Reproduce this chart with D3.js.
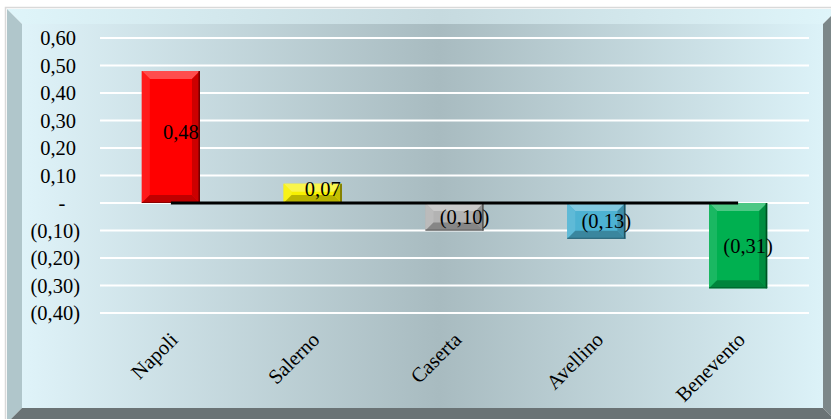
<!DOCTYPE html>
<html>
<head>
<meta charset="utf-8">
<script src="https://cdn.jsdelivr.net/npm/d3@7"></script>
<style>
  html, body { margin: 0; padding: 0; background: #ffffff; }
  svg { display: block; }
  text { font-family: "Liberation Serif", "Times New Roman", serif; fill: #000; }
</style>
</head>
<body>
<svg id="chart" width="831" height="419"></svg>
<script>
// Province values
const categories = ["Napoli", "Salerno", "Caserta", "Avellino", "Benevento"];
const values = [0.48, 0.07, -0.10, -0.13, -0.31];
const barColors = ["#ff0000", "#f7f000", "#b3b3b3", "#4db2d2", "#00b050"];
const yTicks = [0.6, 0.5, 0.4, 0.3, 0.2, 0.1, 0, -0.1, -0.2, -0.3, -0.4];

const W = 831, H = 419;
const svg = d3.select("#chart");
const defs = svg.append("defs");

// Panel background gradient: light at the edges, greyer in the middle
const bg = defs.append("linearGradient").attr("id", "panelGrad")
  .attr("x1", "0%").attr("x2", "100%").attr("y1", "0%").attr("y2", "0%");
bg.append("stop").attr("offset", "0%").attr("stop-color", "#dff3f9");
bg.append("stop").attr("offset", "52%").attr("stop-color", "#a8bbc0");
bg.append("stop").attr("offset", "100%").attr("stop-color", "#dcf2f8");

const topGrad = defs.append("linearGradient").attr("id", "topBevel")
  .attr("x1", "0%").attr("x2", "100%");
topGrad.append("stop").attr("offset", "0%").attr("stop-color", "#dff5fa");
topGrad.append("stop").attr("offset", "52%").attr("stop-color", "#c6dadf");
topGrad.append("stop").attr("offset", "100%").attr("stop-color", "#dff5fa");

// Outer border of the chart area
svg.append("rect").attr("x", 5.5).attr("y", 7.5).attr("width", W).attr("height", H)
  .attr("fill", "none").attr("stroke", "#d9d9d9").attr("stroke-width", 1.5);

// Bevelled frame
const ox0 = 7, oy0 = 9, ox1 = 838, oy1 = 423, bw = 15;
const ix0 = ox0 + bw, iy0 = oy0 + bw, ix1 = ox1 - bw, iy1 = oy1 - bw;
const frame = svg.append("g");
frame.append("polygon").attr("points", [[ox0, oy0], [ox1, oy0], [ix1, iy0], [ix0, iy0]].join(" "))
  .attr("fill", "url(#topBevel)");
frame.append("polygon").attr("points", [[ox0, oy0], [ix0, iy0], [ix0, iy1], [ox0, oy1]].join(" "))
  .attr("fill", "#b0c6cb");
frame.append("polygon").attr("points", [[ox1, oy0], [ox1, oy1], [ix1, iy1], [ix1, iy0]].join(" "))
  .attr("fill", "#7c8789");
frame.append("polygon").attr("points", [[ox0, oy1], [ox1, oy1], [ix1, iy1], [ix0, iy1]].join(" "))
  .attr("fill", "#6a7375");
frame.append("rect").attr("x", ix0).attr("y", iy0).attr("width", ix1 - ix0).attr("height", iy1 - iy0)
  .attr("fill", "url(#panelGrad)");

// Scales
const x = d3.scaleBand().domain(categories).range([100, 809]).paddingInner(0.59).paddingOuter(0.295);
const y = d3.scaleLinear().domain([-0.4, 0.6]).range([313, 38]);

// Gridlines
svg.append("g").selectAll("line").data(yTicks).join("line")
  .attr("x1", 100).attr("x2", 809)
  .attr("y1", d => y(d)).attr("y2", d => y(d))
  .attr("stroke", "#ffffff").attr("stroke-width", 2);

// Y axis labels (accounting style)
const fmt = v => {
  const s = d3.format(".2f")(Math.abs(v)).replace(".", ",");
  if (Math.abs(v) < 1e-9) return "-";
  return v < 0 ? "(" + s + ")" : s;
};
const yAxis = svg.append("g").attr("transform", "translate(100,0)")
  .call(d3.axisLeft(y).tickValues(yTicks).tickFormat(fmt).tickSize(0).tickPadding(20));
yAxis.select(".domain").remove();
yAxis.selectAll("text")
  .attr("font-size", "20.5px")
  .attr("font-family", "Liberation Serif, Times New Roman, serif")
  .attr("fill", "#000")
  .each(function (d) {
    const t = d3.select(this);
    if (Math.abs(d) < 1e-9) t.attr("text-anchor", "middle").attr("x", -38);
    else if (d > 0) t.attr("dx", -4);
  });

// Bars with a bevel
const bars = svg.append("g");
values.forEach((v, i) => {
  const bx = x(categories[i]), w = x.bandwidth();
  const by = y(Math.max(0, v)), h = Math.abs(y(v) - y(0));
  const b = Math.min(8, h / 2, w / 2);
  const base = d3.color(barColors[i]);
  const light = d3.interpolateRgb(base, "#ffffff");
  const dark = d3.interpolateRgb(base, "#000000");
  const g = bars.append("g");
  g.append("rect").attr("x", bx).attr("y", by).attr("width", w).attr("height", h).attr("fill", base);
  g.append("polygon").attr("points", [[bx, by], [bx + w, by], [bx + w - b, by + b], [bx + b, by + b]].join(" "))
    .attr("fill", light(0.3));
  g.append("polygon").attr("points", [[bx, by], [bx + b, by + b], [bx + b, by + h - b], [bx, by + h]].join(" "))
    .attr("fill", light(0.1));
  g.append("polygon").attr("points", [[bx + w, by], [bx + w, by + h], [bx + w - b, by + h - b], [bx + w - b, by + b]].join(" "))
    .attr("fill", dark(0.2));
  g.append("polygon").attr("points", [[bx, by + h], [bx + w, by + h], [bx + w - b, by + h - b], [bx + b, by + h - b]].join(" "))
    .attr("fill", dark(0.25));
  g.append("line").attr("x1", bx + w - 0.75).attr("x2", bx + w - 0.75).attr("y1", by).attr("y2", by + h)
    .attr("stroke", dark(0.55)).attr("stroke-width", 1.5);
  g.append("line").attr("x1", bx).attr("x2", bx + w).attr("y1", by + h - 0.5).attr("y2", by + h - 0.5)
    .attr("stroke", dark(0.45)).attr("stroke-width", 1);
});

// Zero reference line across the category centres
const cx = c => x(c) + x.bandwidth() / 2;
svg.append("line")
  .attr("x1", cx(categories[0])).attr("x2", cx(categories[categories.length - 1]))
  .attr("y1", y(0)).attr("y2", y(0))
  .attr("stroke", "#000").attr("stroke-width", 3);

// Value labels
svg.append("g").selectAll("text").data(values).join("text")
  .attr("x", (d, i) => cx(categories[i]) + 10)
  .attr("y", d => (y(d) + y(0)) / 2 + (d > 0 ? -5 : 0))
  .attr("dy", "0.35em")
  .attr("text-anchor", "middle")
  .attr("font-size", "20.5px")
  .text(fmt);

// Category labels, rotated
svg.append("g").selectAll("text").data(categories).join("text")
  .attr("transform", d => `translate(${cx(d) + 3},336) rotate(-45)`)
  .attr("text-anchor", "end")
  .attr("dy", "0.35em")
  .attr("font-size", "20.5px")
  .text(d => d);
</script>
</body>
</html>
